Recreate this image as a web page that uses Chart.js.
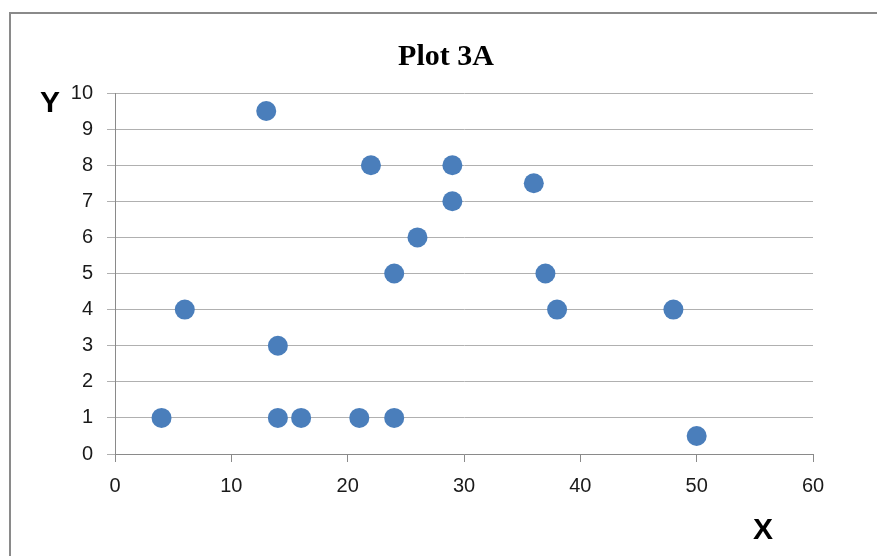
<!DOCTYPE html>
<html>
<head>
<meta charset="utf-8">
<script src="https://cdn.jsdelivr.net/npm/chart.js@4"></script>
<style>
  html, body { margin: 0; padding: 0; background: #fff; }
  #wrap { width: 877px; height: 556px; position: relative; }
</style>
</head>
<body>
<div id="wrap"><canvas id="plot"></canvas></div>
<script>
// Plot 3A data
const xValues = [13, 22, 29, 36, 29, 26, 24, 37, 6, 38, 48, 14, 4, 14, 16, 21, 24, 50];
const yValues = [9.5, 8, 8, 7.5, 7, 6, 5, 5, 4, 4, 4, 3, 1, 1, 1, 1, 1, 0.5];
const xTicks = [0, 10, 20, 30, 40, 50, 60];
const yTicks = [0, 1, 2, 3, 4, 5, 6, 7, 8, 9, 10];

const points = xValues.map((x, i) => ({ x: x, y: yValues[i] }));

// frame, title and axis letters
const decorations = {
  id: 'decorations',
  beforeDraw(c) {
    const ctx = c.ctx;
    ctx.save();
    ctx.fillStyle = '#fff';
    ctx.fillRect(0, 0, c.width, c.height);
    ctx.strokeStyle = '#8a8a8a';
    ctx.lineWidth = 2;
    ctx.strokeRect(10, 13, 1000, 1000);
    ctx.restore();
  },
  afterDraw(c) {
    const ctx = c.ctx;
    ctx.save();
    ctx.fillStyle = '#000';
    ctx.textAlign = 'center';
    ctx.textBaseline = 'middle';
    ctx.font = 'bold 30px "Liberation Serif"';
    ctx.fillText('Plot 3A', 446, 57);
    ctx.font = 'bold 30px "Liberation Sans"';
    ctx.fillText('Y', 50, 104);
    ctx.fillText('X', 763, 531);
    ctx.restore();
  }
};

new Chart(document.getElementById('plot'), {
  type: 'scatter',
  data: {
    datasets: [{
      data: points,
      backgroundColor: '#4a7ebb',
      borderColor: '#4a7ebb',
      borderWidth: 0,
      pointRadius: 10,
      pointHoverRadius: 10
    }]
  },
  options: {
    responsive: true,
    maintainAspectRatio: false,
    animation: false,
    layout: { padding: { left: 0, right: 64, top: 93, bottom: 0 } },
    plugins: {
      legend: { display: false },
      tooltip: { enabled: false }
    },
    scales: {
      x: {
        type: 'linear',
        min: 0,
        max: 60,
        afterBuildTicks: s => { s.ticks = xTicks.map(v => ({ value: v })); },
        afterFit: s => { s.height = 102; },
        grid: { drawOnChartArea: false, drawTicks: true, tickLength: 8, color: '#8a8a8a' },
        border: { color: '#8a8a8a', width: 1 },
        ticks: { color: '#1a1a1a', padding: 12, font: { family: 'Liberation Sans', size: 20 } }
      },
      y: {
        type: 'linear',
        min: 0,
        max: 10,
        afterBuildTicks: s => { s.ticks = yTicks.map(v => ({ value: v })); },
        afterFit: s => { s.width = 115; },
        grid: { color: '#b0b0b0', tickLength: 8, drawTicks: true },
        border: { color: '#8a8a8a', width: 1 },
        ticks: { color: '#1a1a1a', padding: 14, font: { family: 'Liberation Sans', size: 20 } }
      }
    }
  },
  plugins: [decorations]
});
</script>
</body>
</html>
